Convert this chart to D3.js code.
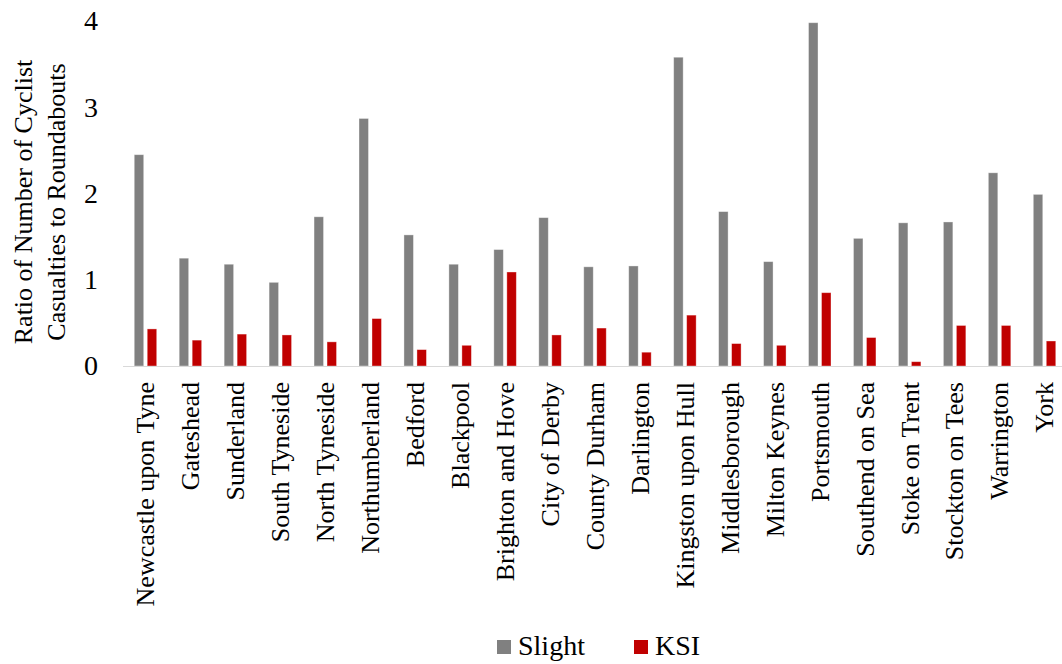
<!DOCTYPE html>
<html>
<head>
<meta charset="utf-8">
<script src="https://cdn.jsdelivr.net/npm/d3@7/dist/d3.min.js"></script>
<style>
  html, body { margin: 0; padding: 0; background: #fff; }
  svg { display: block; }
  text { font-family: "Liberation Serif", "Times New Roman", serif; fill: #000; }
</style>
</head>
<body>
<svg id="chart" width="1062" height="664"></svg>
<script>
// Local authorities along the x axis
const areas = [
  "Newcastle upon Tyne", "Gateshead", "Sunderland", "South Tyneside", "North Tyneside",
  "Northumberland", "Bedford", "Blackpool", "Brighton and Hove", "City of Derby",
  "County Durham", "Darlington", "Kingston upon Hull", "Middlesborough", "Milton Keynes",
  "Portsmouth", "Southend on Sea", "Stoke on Trent", "Stockton on Tees", "Warrington", "York"
];

// Ratio of cyclist casualties to roundabouts, by severity
const slight = [2.45, 1.25, 1.18, 0.97, 1.73, 2.87, 1.52, 1.18, 1.35, 1.72,
                1.15, 1.16, 3.58, 1.79, 1.21, 3.98, 1.48, 1.66, 1.67, 2.24, 1.99];
const ksi    = [0.43, 0.30, 0.37, 0.36, 0.28, 0.55, 0.19, 0.24, 1.09, 0.36,
                0.44, 0.16, 0.59, 0.26, 0.24, 0.85, 0.33, 0.05, 0.47, 0.47, 0.29];

const seriesNames = ["Slight", "KSI"];
const seriesColors = ["#808080", "#C00000"];
const yTicks = [0, 1, 2, 3, 4];
const yTitle = ["Ratio of Number of Cyclist", "Casualties to Roundabouts"];

const svg = d3.select("#chart");
const plot = { left: 123, right: 1067, top: 21, bottom: 366 };
const serif = "Liberation Serif, Times New Roman, serif";

const x0 = d3.scaleBand().domain(areas).range([plot.left, plot.right]).paddingInner(0.5).paddingOuter(0.25);
const x1 = d3.scaleBand().domain(seriesNames).range([0, x0.bandwidth()]).paddingInner(0.27);
const y = d3.scaleLinear().domain([0, 4]).range([plot.bottom, plot.top]);
const color = d3.scaleOrdinal().domain(seriesNames).range(seriesColors);

const rows = areas.map((a, i) => ({ area: a, values: [
  { key: "Slight", value: slight[i] },
  { key: "KSI", value: ksi[i] }
]}));

// Bars
const groups = svg.append("g").selectAll("g").data(rows).join("g")
  .attr("transform", d => `translate(${x0(d.area)},0)`);
groups.selectAll("rect").data(d => d.values).join("rect")
  .attr("x", d => x1(d.key))
  .attr("y", d => y(d.value))
  .attr("width", x1.bandwidth())
  .attr("height", d => y(0) - y(d.value))
  .attr("fill", d => color(d.key))
  .attr("stroke", "#fff")
  .attr("stroke-opacity", 0.45)
  .attr("stroke-width", 0.8);

// Baseline
svg.append("line")
  .attr("x1", plot.left).attr("x2", 1062)
  .attr("y1", y(0) + 0.5).attr("y2", y(0) + 0.5)
  .attr("stroke", "#d9d9d9").attr("stroke-width", 1);

// Y axis (labels only)
const yAxis = d3.axisLeft(y).tickValues(yTicks).tickFormat(d3.format("d")).tickSize(0).tickPadding(0);
const gy = svg.append("g").attr("transform", "translate(98,0)").call(yAxis);
gy.select(".domain").remove();
gy.selectAll("text").attr("font-size", 28).attr("font-family", serif).attr("fill", "#000");

// X axis labels, rotated
const xAxis = d3.axisBottom(x0).tickSize(0).tickPadding(0);
const gx = svg.append("g").attr("transform", `translate(0,${plot.bottom})`).call(xAxis);
gx.select(".domain").remove();
gx.selectAll("text")
  .attr("font-size", 26)
  .attr("font-family", serif)
  .attr("fill", "#000")
  .attr("transform", "rotate(-90)")
  .attr("x", -16)
  .attr("y", 0)
  .attr("dy", "0.34em")
  .attr("text-anchor", "end");

// Y axis title
const cy = 202;
svg.append("text")
  .attr("transform", `translate(0,${cy}) rotate(-90)`)
  .attr("text-anchor", "middle")
  .attr("font-size", 26)
  .selectAll("tspan").data(yTitle).join("tspan")
  .attr("x", 0)
  .attr("y", (d, i) => 32 + i * 32.5)
  .text(d => d);

// Legend
const legend = svg.append("g").attr("transform", "translate(497,640)");
const items = legend.selectAll("g").data(seriesNames).join("g")
  .attr("transform", (d, i) => `translate(${i * 137},0)`);
items.append("rect").attr("width", 14).attr("height", 14).attr("fill", d => color(d));
items.append("text").attr("x", 21).attr("y", 14.5).attr("font-size", 28).text(d => d);
</script>
</body>
</html>
